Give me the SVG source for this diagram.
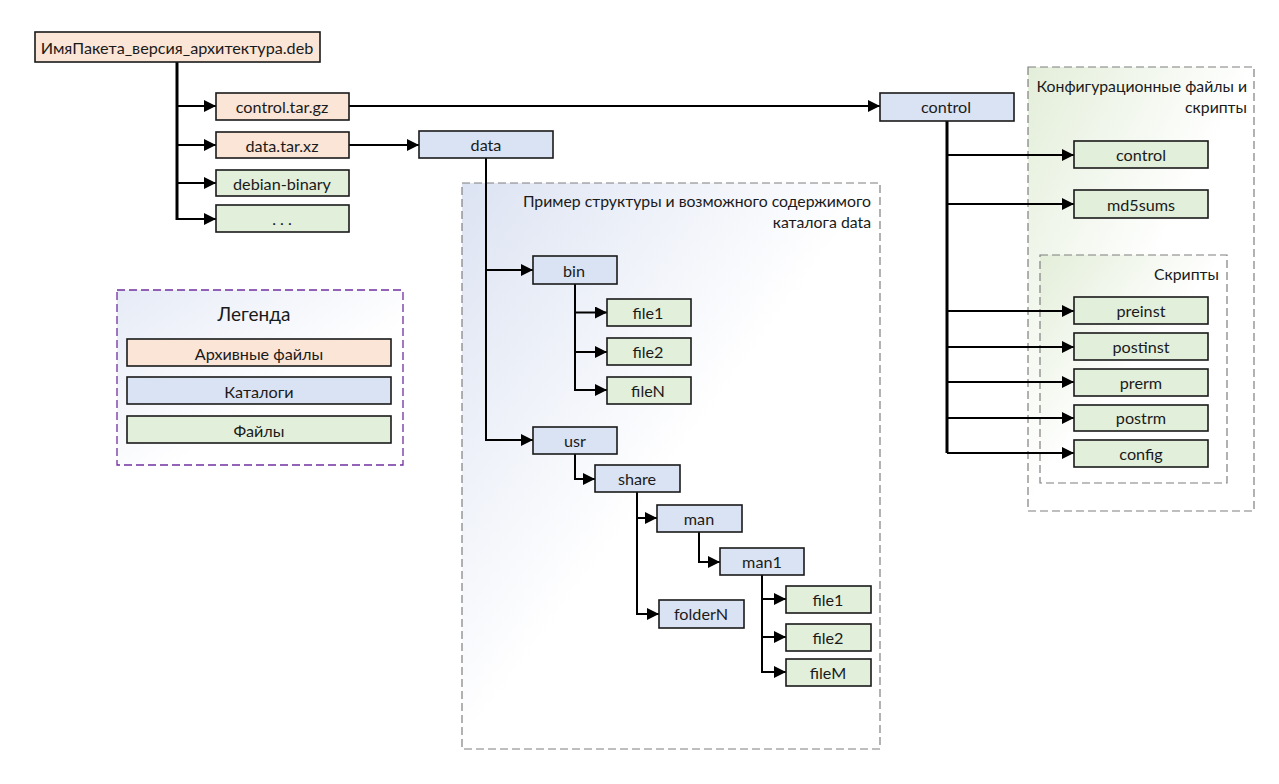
<svg xmlns="http://www.w3.org/2000/svg" width="1279" height="784" viewBox="0 0 1279 784">
<style>
text{font-family:Lato,"Liberation Sans",sans-serif;font-size:16.2px;fill:#1a1a1a}
.lbl{text-anchor:middle;dominant-baseline:central}
.ttl{font-size:15.8px;text-anchor:end;dominant-baseline:central}
.box{stroke:#1a1a1a;stroke-width:1.6}
.arc{fill:#FBE5D6}
.dir{fill:#DAE3F3}
.fil{fill:#E2EFDA}
.cont{stroke:#7f7f7f;stroke-width:1.2;stroke-dasharray:8 4}
.con{fill:none;stroke:#000;stroke-width:2}
.trunk{fill:none;stroke:#000;stroke-width:3}
.arr{marker-end:url(#ah)}
</style>
<defs>
<marker id="ah" markerUnits="userSpaceOnUse" markerWidth="12" markerHeight="12" viewBox="0 0 12 12" refX="12" refY="6" orient="auto">
<path d="M0,0 L12,6 L0,12 Z" fill="#000"/>
</marker>
<linearGradient id="gBlue" x1="0" y1="0" x2="1" y2="1">
<stop offset="0" stop-color="#DCE3F2"/>
<stop offset="0.5" stop-color="#ffffff"/>
</linearGradient>
<linearGradient id="gGreen" x1="0" y1="0" x2="1" y2="1">
<stop offset="0" stop-color="#E3EED9"/>
<stop offset="0.5" stop-color="#ffffff"/>
</linearGradient>
<linearGradient id="gLeg" x1="0" y1="0" x2="1" y2="1">
<stop offset="0" stop-color="#E6EBF6"/>
<stop offset="0.6" stop-color="#ffffff"/>
</linearGradient>
</defs>

<g id="containers">
<g id="data-container">
<rect x="462" y="183" width="418" height="566" fill="url(#gBlue)" class="cont"/>
<text class="ttl" x="871" y="200">Пример структуры и возможного содержимого</text>
<text class="ttl" x="871" y="221">каталога data</text>
</g>
<g id="config-container">
<rect x="1028" y="67" width="226" height="444" fill="url(#gGreen)" class="cont"/>
<text class="ttl" x="1247" y="85">Конфигурационные файлы и</text>
<text class="ttl" x="1247" y="106">скрипты</text>
</g>
<g id="scripts-container">
<rect x="1040" y="255" width="187" height="228" fill="url(#gGreen)" class="cont"/>
<text class="ttl" x="1219" y="273">Скрипты</text>
</g>
<g id="legend">
<rect x="117" y="290" width="286" height="175" fill="url(#gLeg)" stroke="#7030A0" stroke-width="1.3" stroke-dasharray="8 4"/>
<text class="lbl" x="254" y="313" style="font-size:19px">Легенда</text>
<rect class="box arc" x="127" y="339" width="264" height="27"/>
<text class="lbl" x="259" y="353">Архивные файлы</text>
<rect class="box dir" x="127" y="377" width="264" height="27"/>
<text class="lbl" x="259" y="391">Каталоги</text>
<rect class="box fil" x="127" y="416" width="264" height="27"/>
<text class="lbl" x="259" y="430">Файлы</text>
</g>
</g>

<g id="connectors">
<path class="trunk" d="M177,62 V220"/>
<path class="con arr" d="M176,106 H216"/>
<path class="con arr" d="M176,145 H216"/>
<path class="con arr" d="M176,183 H216"/>
<path class="con arr" d="M176,219 H216"/>
<path class="con arr" d="M349,106 H880"/>
<path class="con arr" d="M349,145 H419"/>
<path class="con arr" d="M486,158 V440 H533"/>
<path class="con arr" d="M486,270 H533"/>
<path class="con arr" d="M575,284 V390 H607"/>
<path class="con arr" d="M575,312.5 H607"/>
<path class="con arr" d="M575,352 H607"/>
<path class="con arr" d="M575,454 V479 H595"/>
<path class="con arr" d="M637,492 V614 H659"/>
<path class="con arr" d="M637,518 H657"/>
<path class="con arr" d="M699,532 V562 H720"/>
<path class="con arr" d="M762,575 V672 H786"/>
<path class="con arr" d="M762,599 H786"/>
<path class="con arr" d="M762,637 H786"/>
<path class="trunk" d="M947,121 V453"/>
<path class="con arr" d="M947,453 H1074"/>
<path class="con arr" d="M947,155 H1074"/>
<path class="con arr" d="M947,204 H1074"/>
<path class="con arr" d="M947,311 H1074"/>
<path class="con arr" d="M947,347 H1074"/>
<path class="con arr" d="M947,382 H1074"/>
<path class="con arr" d="M947,418 H1074"/>
</g>

<g id="n-deb"><rect class="box arc" x="35" y="32" width="285" height="30"/><text class="lbl" x="177" y="47">ИмяПакета_версия_архитектура.deb</text></g>
<g id="n-controltar"><rect class="box arc" x="216" y="93" width="133" height="27"/><text class="lbl" x="282" y="106">control.tar.gz</text></g>
<g id="n-datatar"><rect class="box arc" x="216" y="132" width="133" height="26"/><text class="lbl" x="282" y="145">data.tar.xz</text></g>
<g id="n-debbin"><rect class="box fil" x="216" y="170" width="133" height="26"/><text class="lbl" x="282" y="183">debian-binary</text></g>
<g id="n-dots"><rect class="box fil" x="216" y="205" width="133" height="27"/><text class="lbl" x="282" y="218">. . .</text></g>

<g id="n-data"><rect class="box dir" x="419" y="131" width="134" height="27"/><text class="lbl" x="486" y="144">data</text></g>
<g id="n-bin"><rect class="box dir" x="533" y="256" width="84" height="28"/><text class="lbl" x="574" y="270">bin</text></g>
<g id="n-bfile1"><rect class="box fil" x="607" y="299" width="84" height="27"/><text class="lbl" x="648" y="312">file1</text></g>
<g id="n-bfile2"><rect class="box fil" x="607" y="338" width="84" height="27"/><text class="lbl" x="648" y="351">file2</text></g>
<g id="n-bfileN"><rect class="box fil" x="607" y="377" width="84" height="27"/><text class="lbl" x="648" y="390">fileN</text></g>
<g id="n-usr"><rect class="box dir" x="533" y="427" width="84" height="27"/><text class="lbl" x="575" y="440">usr</text></g>
<g id="n-share"><rect class="box dir" x="595" y="465" width="85" height="27"/><text class="lbl" x="637" y="478">share</text></g>
<g id="n-man"><rect class="box dir" x="657" y="505" width="85" height="27"/><text class="lbl" x="699" y="518">man</text></g>
<g id="n-man1"><rect class="box dir" x="720" y="548" width="84" height="27"/><text class="lbl" x="762" y="561">man1</text></g>
<g id="n-folderN"><rect class="box dir" x="659" y="600" width="85" height="28"/><text class="lbl" x="701" y="613">folderN</text></g>
<g id="n-mfile1"><rect class="box fil" x="786" y="586" width="85" height="27"/><text class="lbl" x="828" y="599">file1</text></g>
<g id="n-mfile2"><rect class="box fil" x="786" y="624" width="85" height="27"/><text class="lbl" x="828" y="637">file2</text></g>
<g id="n-mfileM"><rect class="box fil" x="786" y="659" width="85" height="27"/><text class="lbl" x="828" y="672">fileM</text></g>

<g id="n-control"><rect class="box dir" x="880" y="93" width="134" height="28"/><text class="lbl" x="946" y="106">control</text></g>
<g id="n-cfile"><rect class="box fil" x="1074" y="141" width="134" height="27"/><text class="lbl" x="1141" y="154">control</text></g>
<g id="n-md5"><rect class="box fil" x="1074" y="190" width="134" height="28"/><text class="lbl" x="1141" y="204">md5sums</text></g>
<g id="n-preinst"><rect class="box fil" x="1074" y="297" width="134" height="27"/><text class="lbl" x="1141" y="310">preinst</text></g>
<g id="n-postinst"><rect class="box fil" x="1074" y="333" width="134" height="27"/><text class="lbl" x="1141" y="346">postinst</text></g>
<g id="n-prerm"><rect class="box fil" x="1074" y="369" width="134" height="27"/><text class="lbl" x="1141" y="382">prerm</text></g>
<g id="n-postrm"><rect class="box fil" x="1074" y="405" width="134" height="26"/><text class="lbl" x="1141" y="417">postrm</text></g>
<g id="n-config"><rect class="box fil" x="1074" y="440" width="134" height="27"/><text class="lbl" x="1141" y="453">config</text></g>
</svg>
